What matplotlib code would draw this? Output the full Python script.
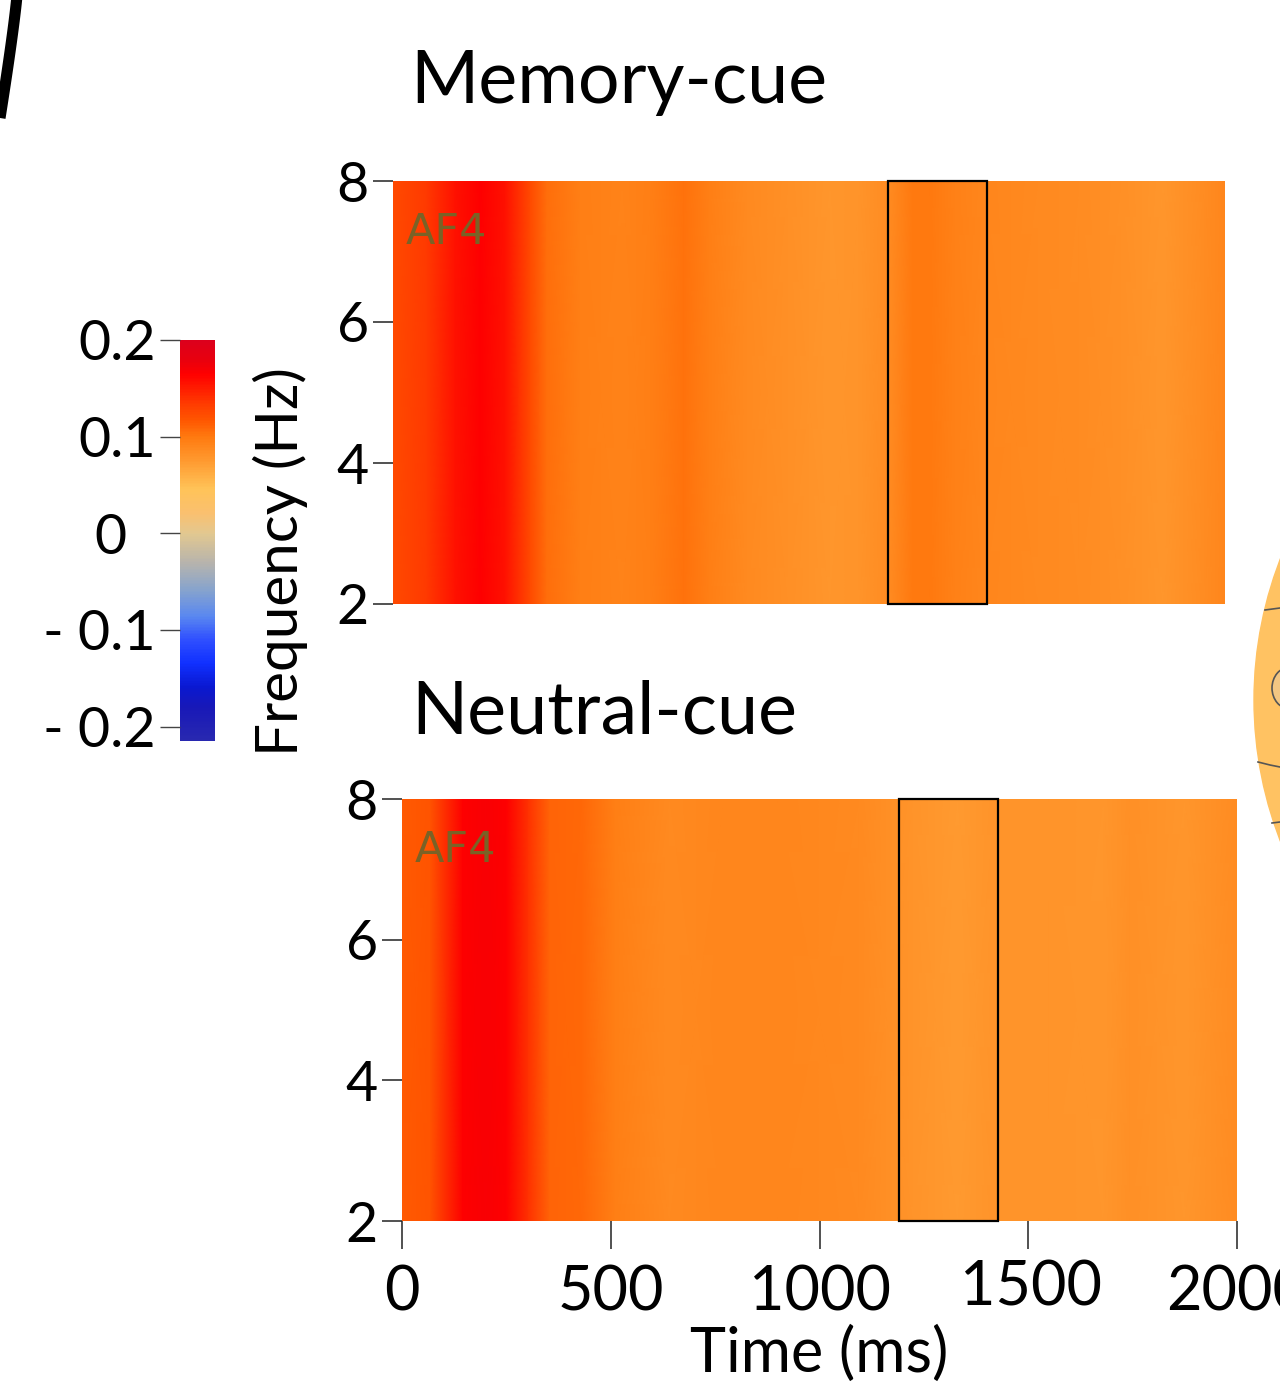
import numpy as np
import matplotlib
matplotlib.use("Agg")
import matplotlib.pyplot as plt
import matplotlib.transforms as mtransforms
from matplotlib.colors import LinearSegmentedColormap, Normalize
from matplotlib.cm import ScalarMappable
from matplotlib.patches import Rectangle, Circle, Ellipse

plt.rcParams['font.family'] = ['Lato', 'DejaVu Sans']

# ---------------- data ----------------
titles = ["Memory-cue", "Neutral-cue"]
channel = "AF4"
time_ms_mem = [0, 80, 150, 210, 270, 330, 370, 450, 550, 620, 700, 760, 850, 950,
               1050, 1120, 1190, 1250, 1290, 1350, 1420, 1550, 1650, 1750, 1850, 1950, 2000]
power_mem = [0.125, 0.135, 0.155, 0.165, 0.155, 0.125, 0.105, 0.095, 0.093, 0.095, 0.103,
             0.095, 0.088, 0.083, 0.078, 0.080, 0.085, 0.100, 0.100, 0.094, 0.090, 0.088,
             0.085, 0.082, 0.078, 0.085, 0.090]
time_ms_neu = [0, 67, 146, 200, 250, 302, 354, 431, 510, 640, 769, 900, 1095, 1224,
               1330, 1420, 1550, 1679, 1744, 1873, 2000]
power_neu = [0.115, 0.118, 0.165, 0.168, 0.165, 0.140, 0.110, 0.108, 0.095, 0.088, 0.090,
             0.090, 0.087, 0.080, 0.075, 0.080, 0.080, 0.078, 0.083, 0.078, 0.086]
freq_hz = [2, 8]
window_ms = [1190, 1428]
yticks = [2, 4, 6, 8]
xticks = [0, 500, 1000, 1500, 2000]
cbar_ticks = [0.2, 0.1, 0, -0.1, -0.2]
cbar_labels = ["0.2", "0.1", "0  ", "- 0.1", "- 0.2"]
vmin, vmax = -0.215, 0.2

cmap_vals = [-0.215, -0.18, -0.16, -0.135, -0.11, -0.086, -0.058, -0.03, 0.0, 0.02,
             0.046, 0.075, 0.1, 0.118, 0.135, 0.165, 0.18, 0.2]
cmap_cols = ["#2828B0", "#1818B8", "#0A18D0", "#1030FF", "#3050FF", "#5A88F0", "#88A4CC",
             "#B8B4AC", "#E2C890", "#FAC070", "#FFC358", "#FF9A30", "#FF7A10", "#FF5500",
             "#FF3A00", "#FF0000", "#E8000E", "#DC001C"]

# ---------------- figure ----------------
W, H = 1280, 1385
fig = plt.figure(figsize=(W / 100, H / 100), dpi=100)

def px_axes(x0, y0, x1, y1, **kw):
    return fig.add_axes([x0 / W, 1 - y1 / H, (x1 - x0) / W, (y1 - y0) / H], **kw)

pos = [(x - vmin) / (vmax - vmin) for x in cmap_vals]
cmap = LinearSegmentedColormap.from_list("custom", list(zip(pos, cmap_cols)))
norm = Normalize(vmin=vmin, vmax=vmax)

panels = [
    (px_axes(393, 181, 1225, 604), time_ms_mem, power_mem, titles[0], (410, 103)),
    (px_axes(402, 799, 1237, 1221), time_ms_neu, power_neu, titles[1], (411, 733)),
]

for i, (ax, t, p, title, tpos) in enumerate(panels):
    Z = np.tile(np.array(p), (len(freq_hz), 1))
    ax.pcolormesh(np.array(t), np.array(freq_hz), Z, cmap=cmap, norm=norm, shading='gouraud')
    ax.set_xlim(0, 2000)
    ax.set_ylim(2, 8)
    for s in ax.spines.values():
        s.set_visible(False)
    ax.set_yticks(yticks)
    ax.set_yticklabels([str(v) for v in yticks], fontsize=40)
    ax.tick_params(axis='y', length=14.5, width=1.1, pad=3, color='#222222')
    if i == 1:
        ax.set_xticks(xticks)
        ax.set_xticklabels([("" if v == 1500 else str(v)) for v in xticks], fontsize=44)
        ax.tick_params(axis='x', length=20, width=1.1, pad=11, color='#222222')
        for lab in ax.get_xticklabels():
            lab.set_clip_on(False)
        # the 1500 label sits slightly higher in the original
        trans = mtransforms.blended_transform_factory(ax.transData, ax.transAxes)
        trans = mtransforms.offset_copy(trans, fig=fig, x=3, y=-39, units='dots')
        ax.text(1500, 0, str(1500), transform=trans, fontsize=44, ha='center', va='top')
        ax.set_xlabel("Time (ms)", fontsize=44, labelpad=3)
    else:
        ax.set_xticks([])
    ax.add_patch(Rectangle((window_ms[0], freq_hz[0]), window_ms[1] - window_ms[0],
                           freq_hz[1] - freq_hz[0], fill=False, edgecolor='black',
                           linewidth=1.6, clip_on=False, zorder=5))
    ax.text(0.015, 0.88, channel, transform=ax.transAxes, fontsize=31, color='#7A6226',
            family='DejaVu Sans', va='center', ha='left')
    fig.text(tpos[0] / W, 1 - tpos[1] / H, title, fontsize=53, ha='left', va='baseline')

# colorbar
cax = px_axes(180, 340, 215, 741)
cb = fig.colorbar(ScalarMappable(norm=norm, cmap=cmap), cax=cax)
cb.outline.set_visible(False)
cax.yaxis.set_ticks_position('left')
cb.set_ticks(cbar_ticks)
cb.set_ticklabels(cbar_labels)
cax.tick_params(axis='y', length=14.5, width=1.0, pad=3, color='#444444', labelsize=40)

fig.text(280 / W, 1 - 562 / H, "Frequency (Hz)", rotation=90, fontsize=42,
         ha='center', va='center')

# decorations: fragments of neighbouring panels
ov = fig.add_axes([0, 0, 1, 1], zorder=-1)
ov.set_xlim(0, W)
ov.set_ylim(H, 0)
ov.axis('off')
yy = np.linspace(-5, 118, 30)
xx = 17 - 17 * ((yy + 5) / 123) ** 1.15
ov.plot(xx, yy, color='black', linewidth=8, solid_capstyle='butt')
ov.add_patch(Circle((1644, 700), 390, color='#FFC262', zorder=1))
ov.add_patch(Ellipse((1290, 688), 36, 42, facecolor='#F2C682', edgecolor='#555555',
                     linewidth=1.2, zorder=2))
ov.plot([1265, 1280], [610, 608], color='#555555', lw=1.2, zorder=3)
ov.plot([1258, 1270, 1280], [762, 765, 767], color='#555555', lw=1.2, zorder=3)
ov.plot([1272, 1280], [823, 822], color='#555555', lw=1.2, zorder=3)

fig.savefig("out.png", dpi=100, facecolor='white')
